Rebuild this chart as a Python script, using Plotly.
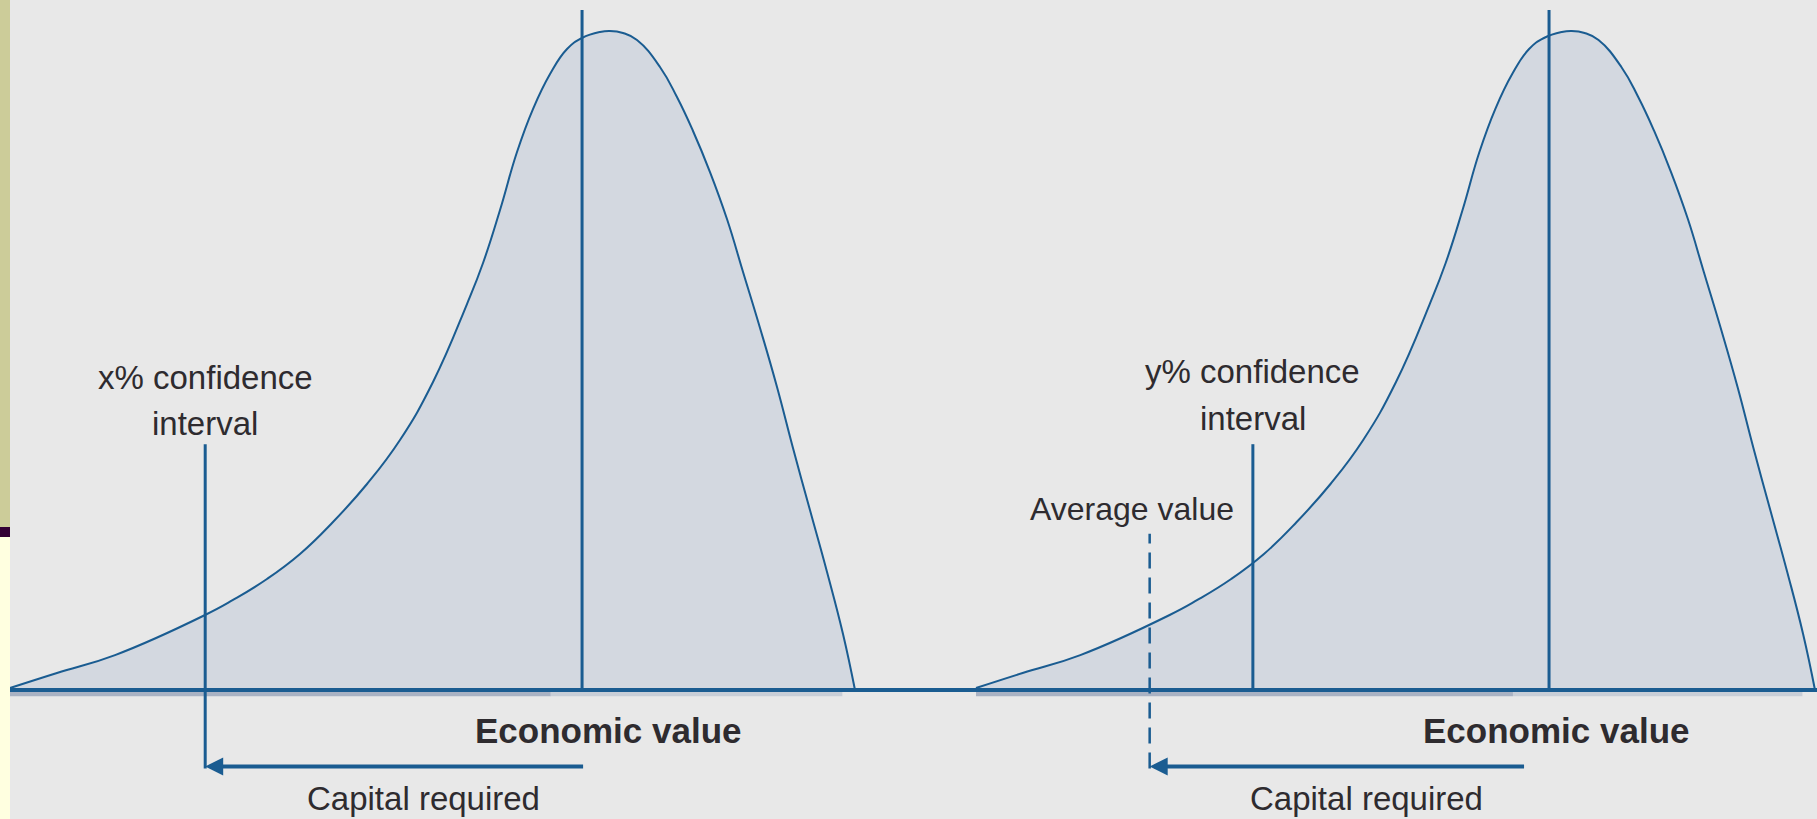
import plotly.graph_objects as go

# distribution shape (economic value vs. density)
curve_value = [0, 5.56, 12.43, 23.08, 26.39, 30.41, 34.32, 38.22, 42.25, 46.15, 50.06,
               54.08, 55.98, 57.99, 60.0, 61.89, 63.91, 65.92, 67.69, 69.82, 71.0, 72.54,
               74.2, 76.92, 78.93, 80.83, 82.84, 84.85, 86.75, 88.76, 90.77, 92.66, 94.67,
               96.69, 98.58, 100]
curve_density = [0.3, 2.58, 5.3, 11.38, 13.66, 16.84, 20.64, 25.49, 31.26, 37.94, 46.74,
                 58.57, 64.8, 72.84, 81.64, 88.16, 93.47, 97.27, 98.94, 99.85, 100, 99.7,
                 98.63, 94.54, 89.98, 84.83, 78.6, 71.47, 63.43, 54.93, 45.98, 36.72, 27.31,
                 17.91, 8.5, 0]

panels = ["x", "x2"]
expected_value = [67.7, 68.3]
confidence_value = [23.1, 33.0]
confidence_labels = [["x% confidence", "interval"], ["y% confidence", "interval"]]
confidence_label_y = [[47.4, 40.4], [48.4, 41.2]]
average_value = 20.7
arrow_tail = [68.0, 65.5]
arrow_tip = [23.1, 20.7]
econ_label_x = [70.8, 69.1]
capital_label_x = [48.9, 46.6]

LINE = "#1A5C91"
FILL = "#D3D8E0"
BG = "#E8E8E8"
TEXT = "#2E2B2F"
FONT = "Liberation Sans, Arial, sans-serif"

W, H = 1817, 819
BASE_PX = 690
PX_PER_DENS = 6.59
origins = [10, 976]
px_per_val = [8.45, 8.39]

fig = go.Figure()

for i, xa in enumerate(panels):
    fig.add_trace(go.Scatter(
        x=curve_value, y=curve_density, xaxis=xa, yaxis="y",
        mode="lines", line=dict(color=LINE, width=2, shape="spline", smoothing=1.3),
        fill="tozeroy", fillcolor=FILL, hoverinfo="skip", showlegend=False))

shapes = []
# thin coloured strip at the left edge
shapes += [
    dict(type="rect", xref="paper", yref="paper", xsizemode="pixel", xanchor=0,
         x0=0, x1=10, y0=1 - 527 / H, y1=1, fillcolor="#CCCC99", line_width=0),
    dict(type="rect", xref="paper", yref="paper", xsizemode="pixel", xanchor=0,
         x0=0, x1=10, y0=1 - 537 / H, y1=1 - 527 / H, fillcolor="#330033", line_width=0),
    dict(type="rect", xref="paper", yref="paper", xsizemode="pixel", xanchor=0,
         x0=0, x1=10, y0=0, y1=1 - 537 / H, fillcolor="#FFFFE0", line_width=0),
]

for i, xa in enumerate(panels):
    # shadow under the baseline
    shapes.append(dict(type="rect", xref=xa, yref="y", x0=0, x1=64, y0=-0.95, y1=-0.3,
                       fillcolor="#A9B2C3", line_width=0, layer="below"))
    shapes.append(dict(type="rect", xref=xa, yref="y", x0=64, x1=98.5, y0=-0.95, y1=-0.3,
                       fillcolor="#C8CED7", line_width=0, layer="below"))
    # expected value line
    shapes.append(dict(type="line", xref=xa, yref="y", x0=expected_value[i], x1=expected_value[i],
                       y0=0, y1=103.2, line=dict(color=LINE, width=3)))

# baseline across the whole figure
shapes.append(dict(type="line", xref="x", yref="y", x0=0, x1=230, y0=0, y1=0,
                   line=dict(color=LINE, width=4)))

# confidence interval lines
shapes.append(dict(type="line", xref="x", yref="y", x0=confidence_value[0], x1=confidence_value[0],
                   y0=-11.9, y1=37.3, line=dict(color=LINE, width=3)))
shapes.append(dict(type="line", xref="x2", yref="y", x0=confidence_value[1], x1=confidence_value[1],
                   y0=0, y1=37.3, line=dict(color=LINE, width=3)))
# average value (dashed)
shapes.append(dict(type="line", xref="x2", yref="y", x0=average_value, x1=average_value,
                   y0=-11.9, y1=23.7, line=dict(color=LINE, width=2.5, dash="16px,9px")))

annotations = []
for i, xa in enumerate(panels):
    annotations.append(dict(
        x=arrow_tip[i], y=-11.6, ax=arrow_tail[i], ay=-11.6, xref=xa, yref="y",
        axref=xa, ayref="y", text="", showarrow=True, arrowhead=2, arrowsize=0.9,
        arrowwidth=4, arrowcolor=LINE, standoff=0))
    annotations.append(dict(
        x=econ_label_x[i], y=-6.1, xref=xa, yref="y", text="<b>Economic value</b>",
        showarrow=False, font=dict(family=FONT, size=35, color=TEXT)))
    annotations.append(dict(
        x=capital_label_x[i], y=-16.5, xref=xa, yref="y", text="Capital required",
        showarrow=False, font=dict(family=FONT, size=33, color=TEXT)))
    for j, line_text in enumerate(confidence_labels[i]):
        annotations.append(dict(
            x=confidence_value[i], y=confidence_label_y[i][j], xref=xa, yref="y",
            text=line_text, showarrow=False, font=dict(family=FONT, size=33, color=TEXT)))

annotations.append(dict(
    x=18.6, y=27.4, xref="x2", yref="y", text="Average value",
    showarrow=False, font=dict(family=FONT, size=32, color=TEXT)))


def axis_range(origin, per):
    return [-origin / per, (W - origin) / per]


hidden = dict(visible=False, showgrid=False, zeroline=False, fixedrange=True)
fig.update_layout(
    width=W, height=H,
    margin=dict(l=0, r=0, t=0, b=0),
    paper_bgcolor=BG, plot_bgcolor=BG,
    xaxis=dict(domain=[0, 1], range=axis_range(origins[0], px_per_val[0]), **hidden),
    xaxis2=dict(domain=[0, 1], range=axis_range(origins[1], px_per_val[1]),
                overlaying="x", anchor="y", **hidden),
    yaxis=dict(range=[-(H - BASE_PX) / PX_PER_DENS, BASE_PX / PX_PER_DENS], **hidden),
    shapes=shapes,
    annotations=annotations,
    showlegend=False,
)

fig.write_html("out.html", config={"displayModeBar": False},
               post_script="document.body.style.margin = '0';")
